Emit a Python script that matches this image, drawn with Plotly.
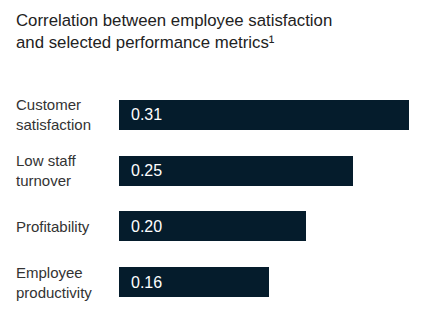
import plotly.graph_objects as go

categories = ["Customer<br>satisfaction", "Low staff<br>turnover", "Profitability", "Employee<br>productivity"]
values = [0.31, 0.25, 0.20, 0.16]
value_labels = ["0.31", "0.25", "0.20", "0.16"]
title_text = "Correlation between employee satisfaction<br>and selected performance metrics¹"

W, H = 422, 325
ml, mr, mt, mb = 119, 13, 87, 15
PW, PH = W - ml - mr, H - mt - mb
FONT = "Liberation Sans, Arial, sans-serif"
BAR = "#051c2c"

def px_x(p):
    return (p - ml) / PW

def px_y(p):
    return (H - mb - p) / PH

fig = go.Figure()
fig.add_trace(go.Bar(
    x=values, y=list(range(len(categories))), orientation="h",
    marker=dict(color=BAR, line=dict(width=0)), width=0.54,
    hoverinfo="skip",
))

annotations = []
for i, (c, v, t) in enumerate(zip(categories, values, value_labels)):
    annotations.append(dict(
        x=0, y=i, xref="x", yref="y", text=t, showarrow=False,
        xanchor="left", yanchor="middle", xshift=10,
        font=dict(family=FONT, size=16, color="white"),
    ))
    annotations.append(dict(
        x=px_x(14), y=i, xref="paper", yref="y", text=c, showarrow=False,
        xanchor="left", yanchor="middle", align="left",
        font=dict(family=FONT, size=15, color="#333333"),
    ))
annotations.append(dict(
    x=px_x(14), y=px_y(9), xref="paper", yref="paper", text=title_text,
    showarrow=False, xanchor="left", yanchor="top", align="left",
    font=dict(family=FONT, size=16.8, color="#222222"),
))

fig.update_layout(
    width=W, height=H,
    margin=dict(l=ml, r=mr, t=mt, b=mb, pad=0),
    paper_bgcolor="white", plot_bgcolor="white",
    showlegend=False,
    xaxis=dict(range=[0, 0.31], visible=False, fixedrange=True),
    yaxis=dict(range=[3.5, -0.5], visible=False, fixedrange=True),
    annotations=annotations,
    bargap=0,
)
fig.write_html("out.html")
